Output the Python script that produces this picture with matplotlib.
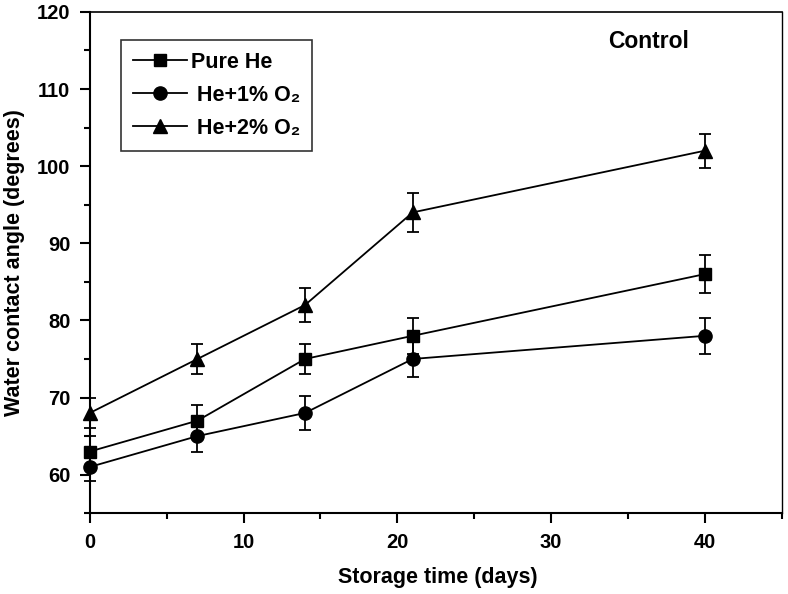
import matplotlib

matplotlib.use("Agg")
import matplotlib.pyplot as plt
from matplotlib.lines import Line2D
from matplotlib.ticker import MultipleLocator

plt.rcParams["font.family"] = ["Liberation Sans", "DejaVu Sans"]
plt.rcParams["font.weight"] = "bold"

days = [0, 7, 14, 21, 40]
pure_he = [63, 67, 75, 78, 86]
pure_he_err = [2, 2, 2, 2.3, 2.5]
he_o2_1 = [61, 65, 68, 75, 78]
he_o2_1_err = [1.8, 2, 2.2, 2.3, 2.3]
he_o2_2 = [68, 75, 82, 94, 102]
he_o2_2_err = [2, 2, 2.2, 2.5, 2.2]
labels = ["Pure He", " He+1% O\u2082", " He+2% O\u2082"]

fig = plt.figure(figsize=(7.88, 5.94), dpi=100)
ax = fig.add_axes([0.114, 0.136, 0.878, 0.844])

handles = []
for ys, err, mk, ms, lab in [
    (pure_he, pure_he_err, "s", 8, labels[0]),
    (he_o2_1, he_o2_1_err, "o", 9.5, labels[1]),
    (he_o2_2, he_o2_2_err, "^", 9.5, labels[2]),
]:
    ax.errorbar(days, ys, yerr=err, fmt="-" + mk, color="black", ms=ms,
                lw=1.3, elinewidth=1.3, capsize=4, capthick=1.3,
                clip_on=False)
    handles.append(Line2D([], [], color="black", marker=mk, ms=ms, lw=1.3,
                          label=lab))

ax.set_xlim(0, 45)
ax.set_ylim(55, 120)
ax.xaxis.set_major_locator(MultipleLocator(10))
ax.xaxis.set_minor_locator(MultipleLocator(5))
ax.yaxis.set_major_locator(MultipleLocator(10))
ax.yaxis.set_minor_locator(MultipleLocator(5))
ax.tick_params(which="major", direction="out", length=7, width=1.5,
               labelsize=14.5, top=False, right=False, pad=7)
ax.tick_params(which="minor", direction="out", length=4, width=1.5,
               top=False, right=False)
for lbl in ax.get_xticklabels() + ax.get_yticklabels():
    lbl.set_fontweight("bold")
for s in ax.spines.values():
    s.set_linewidth(1.5)
ax.spines["top"].set_linewidth(1.2)
ax.spines["right"].set_linewidth(1.0)

fig.text(438 / 788, 1 - 578 / 594, "Storage time (days)", fontsize=15.5,
         fontweight="bold", ha="center", va="center")
fig.text(15 / 788, 1 - 263 / 594, "Water contact angle (degrees)", fontsize=15.5,
         fontweight="bold", ha="center", va="center", rotation=90)

leg = ax.legend(handles=handles, loc="upper left", bbox_to_anchor=(0.03, 0.965),
                fontsize=15.5, frameon=True, fancybox=False, edgecolor="black",
                handlelength=2.5, handletextpad=0.2, borderpad=0.55,
                labelspacing=0.55)
leg.get_frame().set_linewidth(1.2)
for t in leg.get_texts():
    t.set_fontweight("bold")

ax.text(0.808, 0.94, "Control", transform=ax.transAxes, fontsize=16.5,
        fontweight="bold", ha="center", va="center")

fig.savefig("out.png", dpi=100)
